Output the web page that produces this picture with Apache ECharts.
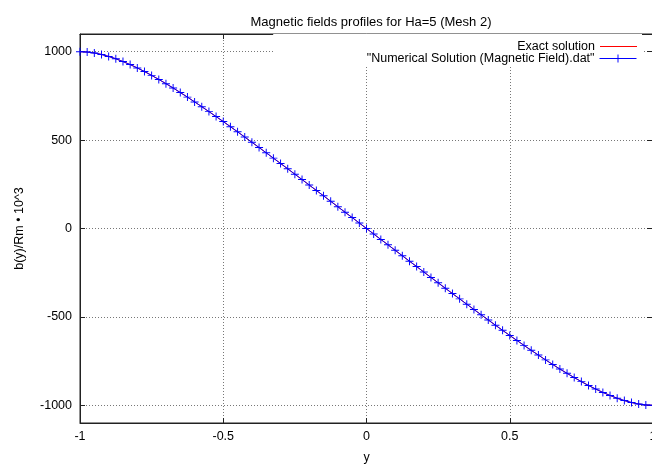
<!DOCTYPE html>
<html lang="en">
<head>
    <meta charset="UTF-8">
    <title>Magnetic fields profiles for Ha=5 (Mesh 2)</title>
    <script src="https://cdn.jsdelivr.net/npm/echarts@6/dist/echarts.min.js"></script>
    <style>
        html, body { margin: 0; padding: 0; background: #fff; }
        #chart { width: 652px; height: 471px; }
    </style>
</head>
<body>
    <div id="chart"></div>

    <script>
        // y positions across the channel
        const yPos = [
            -1, -0.975, -0.95, -0.925, -0.9, -0.875, -0.85, -0.825, -0.8, -0.775,
            -0.75, -0.725, -0.7, -0.675, -0.65, -0.625, -0.6, -0.575, -0.55, -0.525,
            -0.5, -0.475, -0.45, -0.425, -0.4, -0.375, -0.35, -0.325, -0.3, -0.275,
            -0.25, -0.225, -0.2, -0.175, -0.15, -0.125, -0.1, -0.075, -0.05, -0.025,
            0,
            0.025, 0.05, 0.075, 0.1, 0.125, 0.15, 0.175, 0.2, 0.225, 0.25,
            0.275, 0.3, 0.325, 0.35, 0.375, 0.4, 0.425, 0.45, 0.475, 0.5,
            0.525, 0.55, 0.575, 0.6, 0.625, 0.65, 0.675, 0.7, 0.725, 0.75,
            0.775, 0.8, 0.825, 0.85, 0.875, 0.9, 0.925, 0.95, 0.975, 1
        ];

        // exact solution b(y)/Rm * 10^3
        const bExact = [
            1000.0, 998.2, 992.8, 984.5, 973.4, 960.0, 944.4, 927.1, 908.1, 887.6,
            865.9, 843.1, 819.3, 794.6, 769.1, 743.0, 716.3, 689.0, 661.3, 633.1,
            604.6, 575.8, 546.7, 517.4, 487.8, 458.0, 428.1, 398.0, 367.8, 337.5,
            307.1, 276.6, 246.0, 215.4, 184.7, 154.0, 123.2, 92.5, 61.7, 30.8,
            0.0,
            -30.8, -61.7, -92.5, -123.2, -154.0, -184.7, -215.4, -246.0, -276.6, -307.1,
            -337.5, -367.8, -398.0, -428.1, -458.0, -487.8, -517.4, -546.7, -575.8, -604.6,
            -633.1, -661.3, -689.0, -716.3, -743.0, -769.1, -794.6, -819.3, -843.1, -865.9,
            -887.6, -908.1, -927.1, -944.4, -960.0, -973.4, -984.5, -992.8, -998.2, -1000.0
        ];

        // numerical solution
        const bNum = [
            1000, 998, 993, 984, 973, 960, 944, 927, 908, 888,
            866, 843, 819, 795, 769, 743, 716, 689, 661, 633,
            605, 576, 547, 517, 488, 458, 428, 398, 368, 338,
            307, 277, 246, 215, 185, 154, 123, 92, 62, 31,
            0,
            -31, -62, -92, -123, -154, -185, -215, -246, -277, -307,
            -338, -368, -398, -428, -458, -488, -517, -547, -576, -605,
            -633, -661, -689, -716, -743, -769, -795, -819, -843, -866,
            -888, -908, -927, -944, -960, -973, -984, -993, -998, -1000
        ];

        const xTicks = [-1, -0.5, 0, 0.5, 1];
        const yTicks = [-1000, -500, 0, 500, 1000];

        const font = 'Liberation Sans, Arial, sans-serif';
        const fs = 12.5;
        const gridLine = { show: true, lineStyle: { color: '#777', type: [1, 2], width: 1 } };
        const border = { show: true, onZero: false, lineStyle: { color: '#222', width: 1 } };
        const plain = v => String(v);
        // filled cross, so the marker takes the series colour
        const plusMark = 'path://M0,4.4H10V5.6H0Z M4.4,0H5.6V10H4.4Z';

        const chart = echarts.init(document.getElementById('chart'));

        const option = {
            animation: false,
            backgroundColor: '#fff',
            textStyle: { fontFamily: font, color: '#000' },
            title: {
                text: 'Magnetic fields profiles for Ha=5 (Mesh 2)',
                left: 366,
                textAlign: 'center',
                top: 11,
                textStyle: { fontSize: 13, fontWeight: 'normal', color: '#000', fontFamily: font }
            },
            // two legends: a plain red bar for the exact line, line + marker for the data file
            legend: [
                {
                    orient: 'vertical',
                    right: 10,
                    top: 34,
                    align: 'right',
                    padding: [6, 5, 0, 244],
                    backgroundColor: '#fff',
                    icon: 'rect',
                    itemWidth: 37,
                    itemHeight: 1.2,
                    itemStyle: { color: '#ff0000', borderWidth: 0 },
                    textStyle: { fontSize: fs, color: '#000', fontFamily: font },
                    data: ['Exact solution']
                },
                {
                    orient: 'vertical',
                    right: 10,
                    top: 52,
                    align: 'right',
                    padding: [0, 5, 2, 97],
                    backgroundColor: '#fff',
                    itemWidth: 37,
                    itemHeight: 10,
                    lineStyle: { width: 1 },
                    textStyle: { fontSize: fs, color: '#000', fontFamily: font },
                    data: ['"Numerical Solution (Magnetic Field).dat"']
                }
            ],
            grid: {
                left: 80,
                right: -1,
                top: 34,
                bottom: 48,
                outerBoundsMode: 'none',
                containLabel: false,
                show: true,
                borderColor: '#222',
                borderWidth: 1
            },
            xAxis: [
                {
                    type: 'value',
                    min: -1,
                    max: 1,
                    name: 'y',
                    nameLocation: 'middle',
                    nameGap: 28,
                    nameTextStyle: { fontSize: fs, color: '#000' },
                    axisLine: border,
                    axisTick: { inside: true, length: 5, customValues: xTicks, lineStyle: { color: '#222' } },
                    axisLabel: { customValues: xTicks, margin: 7, fontSize: fs, color: '#000', formatter: plain },
                    splitLine: gridLine
                },
                {
                    type: 'value',
                    position: 'top',
                    min: -1,
                    max: 1,
                    axisLine: border,
                    axisTick: { inside: true, length: 5, customValues: xTicks, lineStyle: { color: '#222' } },
                    axisLabel: { show: false },
                    splitLine: { show: false }
                }
            ],
            yAxis: [
                {
                    type: 'value',
                    min: -1100,
                    max: 1100,
                    name: 'b(y)/Rm \u2022 10^3',
                    nameLocation: 'middle',
                    nameGap: 54,
                    nameTextStyle: { fontSize: fs, color: '#000' },
                    axisLine: border,
                    axisTick: { inside: true, length: 5, customValues: yTicks, lineStyle: { color: '#222' } },
                    axisLabel: { customValues: yTicks, margin: 8, fontSize: fs, color: '#000', formatter: plain },
                    splitLine: gridLine
                },
                {
                    type: 'value',
                    position: 'right',
                    min: -1100,
                    max: 1100,
                    axisLine: border,
                    axisTick: { inside: true, length: 6, customValues: yTicks, lineStyle: { color: '#222' } },
                    axisLabel: { show: false },
                    splitLine: { show: false }
                }
            ],
            series: [
                {
                    name: 'Exact solution',
                    type: 'line',
                    data: yPos.map((y, i) => [y, bExact[i]]),
                    symbol: 'none',
                    itemStyle: { color: '#ff0000' },
                    lineStyle: { color: '#ff0000', width: 1 }
                },
                {
                    name: '"Numerical Solution (Magnetic Field).dat"',
                    type: 'line',
                    data: yPos.map((y, i) => [y, bNum[i]]),
                    symbol: plusMark,
                    symbolSize: 8,
                    showAllSymbol: true,
                    itemStyle: { color: '#0000ff', borderWidth: 0 },
                    lineStyle: { color: '#0000ff', width: 1 }
                }
            ]
        };

        chart.setOption(option);
    </script>
</body>
</html>
